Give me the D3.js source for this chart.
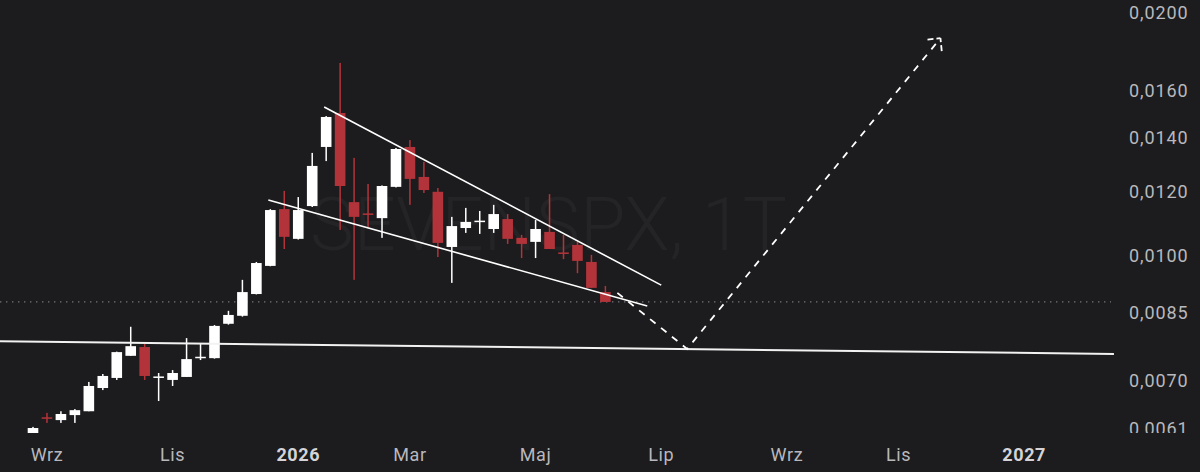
<!DOCTYPE html>
<html>
<head>
<meta charset="utf-8">
<script src="https://cdn.jsdelivr.net/npm/d3@7"></script>
<style>
  html, body { margin: 0; padding: 0; background: #1c1c1e; }
  svg { display: block; }
</style>
</head>
<body>
<div id="chart"></div>
<script>
// weekly candles, SEVENSPX
const weeks = [
  "2025-08-25", "2025-09-01", "2025-09-08", "2025-09-15", "2025-09-22", "2025-09-29",
  "2025-10-06", "2025-10-13", "2025-10-20", "2025-10-27", "2025-11-03", "2025-11-10",
  "2025-11-17", "2025-11-24", "2025-12-01", "2025-12-08", "2025-12-15", "2025-12-22",
  "2025-12-29", "2026-01-05", "2026-01-12", "2026-01-19", "2026-01-26", "2026-02-02",
  "2026-02-09", "2026-02-16", "2026-02-23", "2026-03-02", "2026-03-09", "2026-03-16",
  "2026-03-23", "2026-03-30", "2026-04-06", "2026-04-13", "2026-04-20", "2026-04-27",
  "2026-05-04", "2026-05-11", "2026-05-18", "2026-05-25", "2026-06-01", "2026-06-08"
];
const opens = [
  .00602, .00630, .00625, .00634, .00641, .00685, .00705, .00751, .00770, .00706, .00701, .00707,
  .00747, .00746, .00823, .00842, .00896, .00971, .01142, .01049, .01152, .01364, .01503, .01165,
  .01128, .01113, .01217, .01364, .01252, .01200, .01025, .01082, .01103, .01079, .01110, .01052,
  .01040, .01070, .01009, .01031, .00982, .00901
];
const highs = [
  .00613, .00638, .00641, .00645, .00697, .00713, .00760, .00816, .00777, .00715, .00721, .00790,
  .00779, .00820, .00854, .00933, .00982, .01142, .01203, .01182, .01341, .01490, .01734, .01322,
  .01227, .01222, .01360, .01391, .01307, .01213, .01117, .01146, .01136, .01156, .01126, .01061,
  .01107, .01192, .01061, .01040, .01002, .00917
];
const lows = [
  .00601, .00620, .00620, .00620, .00641, .00681, .00701, .00751, .00701, .00660, .00689, .00707,
  .00742, .00745, .00821, .00840, .00895, .00970, .01019, .01047, .01149, .01310, .01076, .00933,
  .01085, .01052, .01215, .01156, .01196, .00996, .00925, .01067, .01064, .01067, .01034, .00993,
  .00993, .01019, .00990, .00951, .00912, .00876
];
const closes = [
  .00611, .00628, .00636, .00643, .00689, .00709, .00759, .00772, .00709, .00708, .00715, .00744,
  .00749, .00818, .00844, .00901, .00979, .01139, .01055, .01139, .01292, .01486, .01220, .01117,
  .01126, .01220, .01356, .01245, .01206, .01037, .01088, .01101, .01105, .01126, .01049, .01034,
  .01079, .01019, .01007, .00985, .00912, .00876
];

// axes
const priceTicks = [0.0200, 0.0160, 0.0140, 0.0120, 0.0100, 0.0085, 0.0070, 0.0061];
const timeTicks = ["2025-09-01", "2025-11-03", "2026-01-05", "2026-03-02", "2026-05-04",
                   "2026-07-06", "2026-09-07", "2026-11-02", "2027-01-04"];
const timeLabels = ["Wrz", "Lis", "2026", "Mar", "Maj", "Lip", "Wrz", "Lis", "2027"];
const yearLabels = ["2026", "2027"];

// drawings [date, price]
const upperLine = [["2026-01-18", .01529], ["2026-07-06", .00919]];
const lowerLine = [["2025-12-21", .01172], ["2026-06-29", .00866]];
const supportLine = [["2025-08-08", .00783], ["2027-02-18", .00755]];
const projection = [["2026-06-14", .00899], ["2026-07-19", .00766], ["2026-11-23", .01861]];

const watermark = "SEVENSPX, 1T";

const width = 1200, height = 472;
const paneW = 1120, paneH = 433;
const bg = "#1c1c1e";
const upColor = "#ffffff";
const downColor = "#b2343a";

const parse = d3.utcParse("%Y-%m-%d");
const candles = weeks.map((w, i) => ({
  date: parse(w), open: opens[i], high: highs[i], low: lows[i], close: closes[i]
}));

const x = d3.scaleUtc()
  .domain([parse("2025-08-25"), parse("2027-01-04")])
  .range([33, 1024.2]);
const y = d3.scaleLog()
  .domain([0.0061, 0.02])
  .range([428.6, 13]);

const barStep = x(parse("2025-09-01")) - x(parse("2025-08-25"));
const bodyW = barStep * 0.76;

const fmt = d3.formatLocale({ decimal: ",", thousands: " ", grouping: [3], currency: ["", ""] }).format(".4f");

const svg = d3.select("#chart")
  .append("svg")
    .attr("width", width)
    .attr("height", height)
    .attr("viewBox", [0, 0, width, height])
    .style("font-family", "Roboto, 'Noto Sans', sans-serif");

svg.append("rect")
  .attr("width", width).attr("height", height)
  .attr("fill", bg);

const defs = svg.append("defs");
defs.append("clipPath").attr("id", "pane")
  .append("rect").attr("width", paneW).attr("height", paneH);
defs.append("clipPath").attr("id", "scale")
  .append("rect").attr("width", width).attr("height", paneH);

const pane = svg.append("g").attr("clip-path", "url(#pane)");

// watermark
pane.append("text")
  .attr("x", 310)
  .attr("y", 250)
  .attr("textLength", 477)
  .attr("lengthAdjust", "spacingAndGlyphs")
  .attr("fill", "#242427")
  .attr("font-size", 74)
  .attr("font-weight", 300)
  .text(watermark);

// last price line
pane.append("line")
  .attr("x1", 0).attr("x2", 1111)
  .attr("y1", y(closes[closes.length - 1]))
  .attr("y2", y(closes[closes.length - 1]))
  .attr("stroke", "#75757b")
  .attr("stroke-width", 1.2)
  .attr("stroke-dasharray", "1.4 4.6");

// candles
const candle = pane.append("g")
  .selectAll("g")
  .data(candles)
  .join("g")
    .attr("fill", d => d.close >= d.open ? upColor : downColor)
    .attr("stroke", "none");

candle.append("rect")
  .attr("x", d => x(d.date) - 0.75)
  .attr("width", 1.5)
  .attr("y", d => y(d.high))
  .attr("height", d => y(d.low) - y(d.high));

candle.append("rect")
  .attr("x", d => x(d.date) - bodyW / 2)
  .attr("width", bodyW)
  .attr("y", d => y(Math.max(d.open, d.close)))
  .attr("height", d => Math.max(1.5, Math.abs(y(d.open) - y(d.close))));

// trend lines
const line = d3.line()
  .x(d => x(parse(d[0])))
  .y(d => y(d[1]));

pane.append("path")
  .attr("d", line(supportLine))
  .attr("fill", "none")
  .attr("stroke", "#f2f2f2")
  .attr("stroke-width", 2);

[upperLine, lowerLine].forEach(pts => {
  pane.append("path")
    .attr("d", line(pts))
    .attr("fill", "none")
    .attr("stroke", "#ffffff")
    .attr("stroke-width", 1.6);
});

// projected path with an open arrow head
pane.append("path")
  .attr("d", line(projection))
  .attr("fill", "none")
  .attr("stroke", "#ffffff")
  .attr("stroke-width", 1.8)
  .attr("stroke-dasharray", "7 7");

const p1 = projection[projection.length - 2], p2 = projection[projection.length - 1];
const tx = x(parse(p2[0])), ty = y(p2[1]);
const ang = Math.atan2(ty - y(p1[1]), tx - x(parse(p1[0])));
const head = [-Math.PI / 4, Math.PI / 4].map(a => [
  [tx - 13 * Math.cos(ang + a), ty - 13 * Math.sin(ang + a)],
  [tx, ty]
]);
pane.append("g")
  .selectAll("path")
  .data(head)
  .join("path")
    .attr("d", d => d3.line()(d))
    .attr("fill", "none")
    .attr("stroke", "#ffffff")
    .attr("stroke-width", 1.8)
    .attr("stroke-dasharray", "6 3");

// price scale
svg.append("g")
  .attr("clip-path", "url(#scale)")
  .selectAll("text")
  .data(priceTicks)
  .join("text")
    .attr("x", 1129)
    .attr("y", d => y(d))
    .attr("dy", "0.35em")
    .attr("fill", "#b8b8bd")
    .attr("font-size", 18)
    .attr("letter-spacing", 0.9)
    .text(d => fmt(d));

// time scale
svg.append("g")
  .selectAll("text")
  .data(timeTicks.map((t, i) => ({ date: parse(t), label: timeLabels[i] })))
  .join("text")
    .attr("x", d => x(d.date))
    .attr("y", 461)
    .attr("text-anchor", "middle")
    .attr("font-size", 18)
    .attr("letter-spacing", 0.6)
    .attr("font-weight", d => yearLabels.includes(d.label) ? 700 : 400)
    .attr("fill", d => yearLabels.includes(d.label) ? "#d4d4d8" : "#b8b8bd")
    .text(d => d.label);
</script>
</body>
</html>
